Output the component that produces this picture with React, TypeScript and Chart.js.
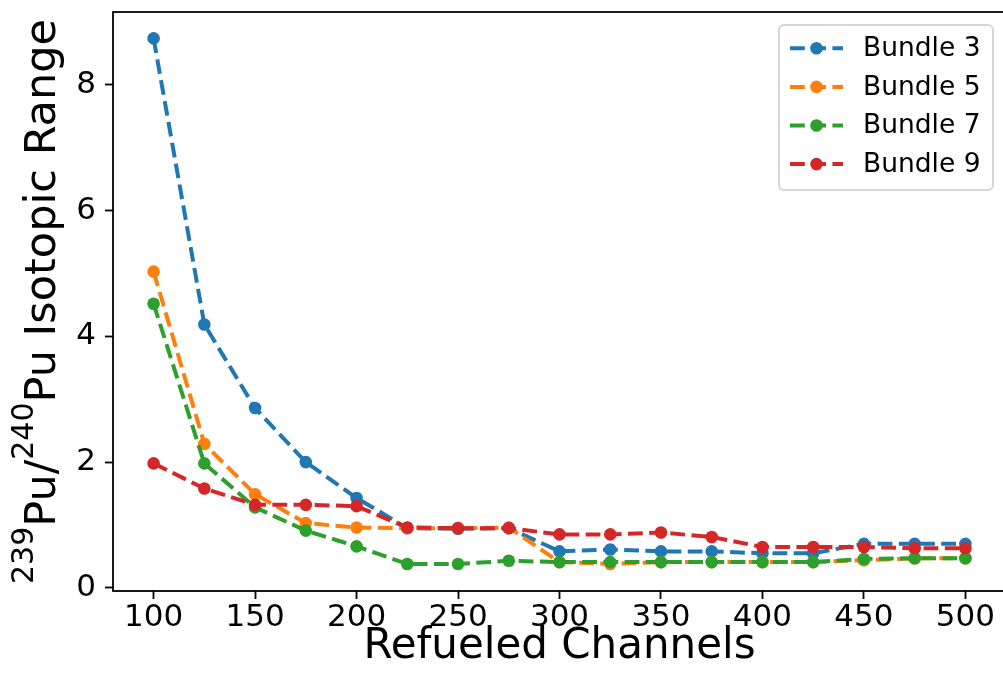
import React, { useEffect, useRef } from "react";
import { Chart, registerables } from "chart.js";

Chart.register(...registerables);

// ---- data ----
const channels = [100, 125, 150, 175, 200, 225, 250, 275, 300, 325, 350, 375, 400, 425, 450, 475, 500];
const bundle3 = [8.74, 4.19, 2.86, 2.0, 1.43, 0.95, 0.94, 0.95, 0.58, 0.61, 0.58, 0.58, 0.55, 0.55, 0.7, 0.7, 0.7];
const bundle5 = [5.03, 2.29, 1.49, 1.03, 0.96, 0.95, 0.95, 0.96, 0.41, 0.38, 0.41, 0.41, 0.41, 0.41, 0.44, 0.47, 0.47];
const bundle7 = [4.52, 1.98, 1.28, 0.91, 0.66, 0.38, 0.38, 0.43, 0.41, 0.41, 0.41, 0.41, 0.41, 0.41, 0.46, 0.47, 0.47];
const bundle9 = [1.98, 1.58, 1.32, 1.32, 1.3, 0.96, 0.95, 0.95, 0.85, 0.85, 0.88, 0.81, 0.65, 0.65, 0.65, 0.63, 0.63];
const seriesLabels = ["Bundle 3", "Bundle 5", "Bundle 7", "Bundle 9"];
const seriesColors = ["#1f77b4", "#ff7f0e", "#2ca02c", "#d62728"];
const xTicks = [100, 150, 200, 250, 300, 350, 400, 450, 500];
const yTicks = [0, 2, 4, 6, 8];
const xTitle = "Refueled Channels";
const yTitleParts = [
  { text: "239", sup: true },
  { text: "Pu/", sup: false },
  { text: "240", sup: true },
  { text: "Pu Isotopic Range", sup: false },
];

const FONT = "'DejaVu Sans', sans-serif";
const LINE_W = 4;
const DASH = [14.8, 6.4];
const MARKER_R = 6.3;

const decorPlugin = {
  id: "decor",
  afterDatasetsDraw(chart: any) {
    const { ctx, chartArea: a } = chart;
    ctx.save();
    // spines
    ctx.strokeStyle = "#000";
    ctx.lineWidth = 1.8;
    ctx.setLineDash([]);
    ctx.strokeRect(a.left, a.top, a.right - a.left, a.bottom - a.top);

    // legend
    const bw = 214;
    const bh = 165;
    const bx = a.right - 13 - bw;
    const by = a.top + 13;
    const r = 5;
    ctx.beginPath();
    ctx.moveTo(bx + r, by);
    ctx.lineTo(bx + bw - r, by);
    ctx.arcTo(bx + bw, by, bx + bw, by + r, r);
    ctx.lineTo(bx + bw, by + bh - r);
    ctx.arcTo(bx + bw, by + bh, bx + bw - r, by + bh, r);
    ctx.lineTo(bx + r, by + bh);
    ctx.arcTo(bx, by + bh, bx, by + bh - r, r);
    ctx.lineTo(bx, by + r);
    ctx.arcTo(bx, by, bx + r, by, r);
    ctx.closePath();
    ctx.fillStyle = "rgba(255,255,255,0.8)";
    ctx.fill();
    ctx.strokeStyle = "rgba(204,204,204,0.8)";
    ctx.lineWidth = 2;
    ctx.stroke();

    chart.data.datasets.forEach((ds: any, i: number) => {
      const cy = by + 23.3 + i * 38.6;
      ctx.strokeStyle = ds.borderColor;
      ctx.lineWidth = LINE_W;
      ctx.setLineDash(DASH);
      ctx.lineCap = "butt";
      ctx.beginPath();
      ctx.moveTo(bx + 11, cy);
      ctx.lineTo(bx + 64, cy);
      ctx.stroke();
      ctx.setLineDash([]);
      ctx.fillStyle = ds.borderColor;
      ctx.beginPath();
      ctx.arc(bx + 37.5, cy, MARKER_R, 0, Math.PI * 2);
      ctx.fill();
      ctx.fillStyle = "#000";
      ctx.font = `26.5px ${FONT}`;
      ctx.textBaseline = "middle";
      ctx.textAlign = "left";
      ctx.fillText(ds.label, bx + 84, cy + 1);
    });

    // y axis title with superscripts
    const mainSize = 43;
    const supSize = 30;
    const parts = yTitleParts.map((p) => {
      ctx.font = `${p.sup ? supSize : mainSize}px ${FONT}`;
      return { ...p, w: ctx.measureText(p.text).width };
    });
    const total = parts.reduce((s, p) => s + p.w, 0);
    const cyMid = (a.top + a.bottom) / 2;
    const baseX = 55;
    ctx.translate(baseX, cyMid);
    ctx.rotate(-Math.PI / 2);
    ctx.fillStyle = "#000";
    ctx.textBaseline = "alphabetic";
    ctx.textAlign = "left";
    let u = -total / 2;
    parts.forEach((p) => {
      ctx.font = `${p.sup ? supSize : mainSize}px ${FONT}`;
      ctx.fillText(p.text, u, p.sup ? -22 : 0);
      u += p.w;
    });
    ctx.restore();
  },
};

const noPad = (s: any) => {
  s.paddingTop = 0;
  s.paddingBottom = 0;
  s.paddingLeft = 0;
  s.paddingRight = 0;
};

export default function App() {
  const ref = useRef<HTMLCanvasElement | null>(null);
  useEffect(() => {
    document.body.style.margin = "0";
    const seriesValues = [bundle3, bundle5, bundle7, bundle9];
    const chart = new Chart(ref.current as HTMLCanvasElement, {
      type: "line",
      data: {
        datasets: seriesValues.map((vals, i) => ({
          label: seriesLabels[i],
          data: channels.map((x, j) => ({ x, y: vals[j] })),
          borderColor: seriesColors[i],
          backgroundColor: seriesColors[i],
          pointBackgroundColor: seriesColors[i],
          pointBorderWidth: 0,
          pointRadius: MARKER_R,
          borderWidth: LINE_W,
          borderDash: DASH,
          borderJoinStyle: "round",
          tension: 0,
          fill: false,
          order: 4 - i,
        })),
      },
      options: {
        responsive: false,
        animation: false,
        devicePixelRatio: 1,
        layout: { autoPadding: false, padding: { top: 12, right: 2, left: 0, bottom: 0 } },
        plugins: {
          legend: { display: false },
          tooltip: { enabled: false },
        },
        scales: {
          x: {
            type: "linear",
            min: 80,
            max: 520,
            afterBuildTicks: (s: any) => {
              s.ticks = xTicks.map((v) => ({ value: v }));
            },
            afterFit: (s: any) => {
              s.height = 101;
              noPad(s);
            },
            border: { display: false },
            grid: {
              drawOnChartArea: false,
              drawTicks: true,
              tickLength: 8,
              tickColor: "#000",
              tickWidth: 1.8,
            },
            ticks: {
              color: "#000",
              font: { family: FONT, size: 31 },
              padding: 0,
              maxRotation: 0,
            },
            title: {
              display: true,
              text: xTitle,
              color: "#000",
              font: { family: FONT, size: 42 },
              padding: { top: 0, bottom: 20 },
            },
          },
          y: {
            type: "linear",
            min: -0.05,
            max: 9.16,
            afterBuildTicks: (s: any) => {
              s.ticks = yTicks.map((v) => ({ value: v }));
            },
            afterFit: (s: any) => {
              s.width = 113;
              noPad(s);
            },
            border: { display: false },
            grid: {
              drawOnChartArea: false,
              drawTicks: true,
              tickLength: 8,
              tickColor: "#000",
              tickWidth: 1.8,
            },
            ticks: {
              color: "#000",
              font: { family: FONT, size: 31 },
              padding: 9,
            },
          },
        },
      },
      plugins: [decorPlugin],
    });
    return () => chart.destroy();
  }, []);
  return (
    <div style={{ position: "relative", width: 1003, height: 692, overflow: "hidden", background: "#fff" }}>
      <canvas ref={ref} width={1008} height={692} style={{ display: "block", width: 1008, height: 692 }} />
    </div>
  );
}
